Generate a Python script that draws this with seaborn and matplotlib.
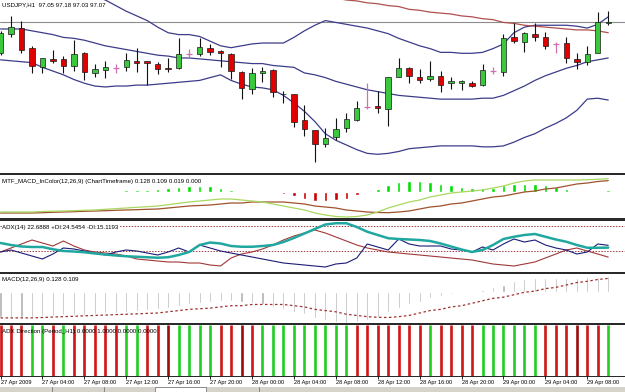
"""
USDJPY H1 terminal-style chart: candles with Bollinger bands plus four indicator windows.
"""

import matplotlib

matplotlib.use("Agg")
import matplotlib.pyplot as plt
import numpy as np
import seaborn as sns
from matplotlib.patches import Rectangle

# ---- data -------------------------------------------------------------------
bar_index = np.arange(59)

open_ = [96.73, 96.94, 97.00, 96.79, 96.58, 96.67, 96.67, 96.59, 96.73, 96.52,
         96.55, 96.57, 96.58, 96.65, 96.65, 96.62, 96.57, 96.57, 96.72, 96.72,
         96.79, 96.75, 96.72, 96.53, 96.35, 96.52, 96.55, 96.30, 96.30, 96.02,
         95.91, 95.76, 95.83, 95.93, 96.02, 96.16, 96.17, 96.13, 96.48, 96.57,
         96.48, 96.45, 96.49, 96.41, 96.41, 96.41, 96.39, 96.54, 96.53, 96.90,
         96.85, 96.94, 96.90, 96.83, 96.84, 96.67, 96.64, 96.73, 97.05]
high = [96.97, 97.13, 97.08, 96.81, 96.68, 96.77, 96.70, 96.87, 96.74, 96.62,
        96.65, 96.62, 96.73, 96.79, 96.65, 96.64, 96.68, 96.89, 96.78, 96.89,
        96.83, 96.77, 96.73, 96.54, 96.57, 96.58, 96.56, 96.33, 96.30, 96.18,
        95.91, 95.93, 96.04, 96.09, 96.22, 96.41, 96.33, 96.48, 96.68, 96.58,
        96.56, 96.65, 96.54, 96.48, 96.44, 96.43, 96.62, 96.58, 96.94, 97.05,
        96.96, 97.05, 96.96, 96.85, 96.90, 96.73, 96.81, 97.17, 97.18]
low = [96.71, 96.90, 96.73, 96.52, 96.52, 96.63, 96.52, 96.54, 96.44, 96.48,
       96.47, 96.52, 96.54, 96.53, 96.39, 96.51, 96.53, 96.56, 96.69, 96.70,
       96.71, 96.58, 96.45, 96.24, 96.30, 96.42, 96.26, 96.20, 95.94, 95.85,
       95.57, 95.73, 95.80, 95.89, 96.01, 96.13, 96.09, 95.95, 96.48, 96.41,
       96.41, 96.43, 96.32, 96.35, 96.34, 96.37, 96.38, 96.51, 96.49, 96.84,
       96.74, 96.86, 96.78, 96.73, 96.63, 96.56, 96.60, 96.73, 97.03]
close = [96.95, 97.01, 96.77, 96.59, 96.68, 96.65, 96.59, 96.72, 96.53, 96.56,
         96.58, 96.57, 96.66, 96.63, 96.63, 96.56, 96.56, 96.72, 96.72, 96.80,
         96.74, 96.73, 96.54, 96.36, 96.52, 96.54, 96.32, 96.29, 96.00, 95.92,
         95.76, 95.82, 95.92, 96.03, 96.14, 96.16, 96.14, 96.48, 96.57, 96.49,
         96.44, 96.49, 96.39, 96.43, 96.43, 96.38, 96.55, 96.54, 96.89, 96.86,
         96.95, 96.90, 96.81, 96.83, 96.68, 96.64, 96.72, 97.06, 97.07]

bb_upper = [97.73, 97.71, 97.67, 97.64, 97.60, 97.56, 97.50, 97.45, 97.40, 97.34,
            97.30, 97.24, 97.18, 97.13, 97.08, 97.01, 96.95, 96.93, 96.93, 96.91,
            96.86, 96.81, 96.79, 96.81, 96.83, 96.84, 96.84, 96.84, 96.90, 96.97,
            97.03, 97.08, 97.06, 97.04, 97.02, 97.00, 96.97, 96.94, 96.89, 96.85,
            96.81, 96.78, 96.74, 96.74, 96.73, 96.73, 96.74, 96.78, 96.83, 96.95,
            97.01, 97.03, 97.03, 97.03, 97.03, 97.02, 97.00, 97.04, 97.12]
bb_mid = [96.99, 96.99, 96.99, 96.97, 96.95, 96.93, 96.90, 96.89, 96.87, 96.84,
          96.81, 96.79, 96.77, 96.75, 96.73, 96.71, 96.70, 96.68, 96.68, 96.67,
          96.66, 96.65, 96.64, 96.63, 96.62, 96.62, 96.60, 96.59, 96.58, 96.52,
          96.50, 96.47, 96.43, 96.40, 96.37, 96.34, 96.32, 96.30, 96.28, 96.27,
          96.26, 96.25, 96.24, 96.24, 96.24, 96.24, 96.25, 96.25, 96.28, 96.33,
          96.38, 96.44, 96.49, 96.53, 96.57, 96.60, 96.64, 96.66, 96.68]
bb_lower = [96.66, 96.65, 96.64, 96.63, 96.58, 96.54, 96.50, 96.45, 96.41, 96.38,
            96.37, 96.38, 96.38, 96.39, 96.39, 96.40, 96.41, 96.42, 96.43, 96.44,
            96.47, 96.50, 96.44, 96.40, 96.37, 96.36, 96.34, 96.28, 96.20, 96.11,
            96.00, 95.87, 95.80, 95.75, 95.70, 95.66, 95.65, 95.66, 95.68, 95.71,
            95.72, 95.73, 95.74, 95.74, 95.74, 95.74, 95.73, 95.73, 95.74, 95.78,
            95.83, 95.87, 95.93, 95.98, 96.04, 96.12, 96.24, 96.25, 96.23]
# slow moving average, only the part inside the window is known
ma_slow = [np.nan] * 26 + [
    97.40, 97.39, 97.37, 97.36, 97.35, 97.33, 97.32, 97.30, 97.29, 97.27,
    97.26, 97.24, 97.23, 97.20, 97.19, 97.17, 97.16, 97.15, 97.13, 97.12,
    97.10, 97.09, 97.06, 97.05, 97.03, 97.02, 97.01, 97.00, 96.99, 96.98,
    96.98, 96.97, 96.95]
bid_price = 97.07

macd_main = [-0.205, -0.205, -0.205, -0.205, -0.200, -0.197, -0.195, -0.192, -0.188, -0.185,
             -0.178, -0.172, -0.165, -0.158, -0.152, -0.145, -0.132, -0.118, -0.105, -0.095,
             -0.085, -0.075, -0.075, -0.085, -0.095, -0.105, -0.125, -0.145, -0.165, -0.185,
             -0.215, -0.235, -0.250, -0.255, -0.250, -0.235, -0.205, -0.165, -0.135, -0.105,
             -0.085, -0.055, -0.035, -0.015, -0.005, 0.005, 0.015, 0.035, 0.055, 0.085,
             0.105, 0.115, 0.115, 0.115, 0.115, 0.115, 0.118, 0.122, 0.128]
macd_signal = [-0.215, -0.215, -0.215, -0.215, -0.212, -0.208, -0.205, -0.202, -0.198, -0.195,
               -0.192, -0.188, -0.185, -0.182, -0.178, -0.175, -0.165, -0.155, -0.145, -0.140,
               -0.135, -0.125, -0.115, -0.115, -0.105, -0.105, -0.105, -0.105, -0.115, -0.125,
               -0.145, -0.155, -0.165, -0.185, -0.195, -0.205, -0.210, -0.212, -0.205, -0.195,
               -0.175, -0.155, -0.145, -0.125, -0.115, -0.095, -0.075, -0.055, -0.045, -0.025,
               -0.005, 0.005, 0.025, 0.035, 0.055, 0.075, 0.085, 0.100, 0.109]
mtf_hist = [0.01, 0.01, 0.01, -0.01, -0.01, -0.01, -0.01, -0.01, -0.01, 0.01,
            0.01, 0.01, 0.02, 0.02, 0.02, 0.03, 0.04, 0.05, 0.06, 0.06,
            0.06, 0.04, 0.02, 0.01, 0.01, 0.01, -0.01, -0.02, -0.04, -0.07,
            -0.09, -0.09, -0.08, -0.07, -0.03, 0.01, 0.03, 0.07, 0.10, 0.11,
            0.11, 0.10, 0.08, 0.07, 0.05, 0.04, 0.04, 0.04, 0.07, 0.08,
            0.08, 0.08, 0.07, 0.05, 0.03, 0.01, -0.01, 0.01, 0.019]

adx = [26.4, 24.8, 23.6, 23.2, 23.2, 21.4, 20.0, 19.6, 19.0, 18.0,
       17.2, 16.4, 15.8, 15.4, 15.0, 14.6, 15.0, 16.8, 19.2, 24.8,
       26.8, 26.0, 24.0, 23.4, 23.4, 24.0, 24.8, 27.2, 30.4, 34.0,
       37.6, 41.2, 42.2, 42.2, 39.2, 35.4, 32.8, 30.2, 29.6, 29.2,
       28.8, 28.0, 26.0, 23.6, 21.2, 19.2, 20.8, 24.8, 29.6, 31.4,
       32.8, 33.6, 31.4, 29.2, 27.4, 24.8, 22.6, 22.6, 22.69]
plus_di = [19.2, 20.8, 18.4, 16.0, 13.6, 17.6, 22.4, 21.6, 20.0, 18.4,
           16.8, 19.2, 20.8, 20.0, 18.4, 16.8, 19.2, 22.4, 19.2, 24.8,
           22.4, 20.0, 18.4, 16.8, 15.2, 13.6, 12.0, 10.4, 9.6, 8.8,
           8.0, 7.2, 9.6, 10.4, 14.4, 25.6, 23.2, 20.8, 29.6, 25.6,
           24.0, 24.0, 24.0, 21.6, 20.8, 19.2, 23.2, 20.8, 25.6, 29.6,
           27.2, 28.8, 24.8, 22.4, 20.8, 17.6, 19.2, 25.6, 24.55]
minus_di = [19.2, 22.4, 25.6, 28.8, 26.4, 24.0, 28.0, 24.0, 20.8, 19.2,
            18.4, 17.6, 16.0, 13.6, 12.8, 12.0, 11.2, 11.2, 10.4, 10.4,
            8.8, 8.0, 14.4, 17.6, 19.2, 21.6, 24.8, 28.8, 32.0, 34.4,
            36.8, 34.4, 31.2, 28.0, 24.8, 22.4, 20.8, 19.2, 18.4, 17.6,
            16.8, 16.0, 15.2, 14.4, 13.6, 12.8, 11.2, 9.6, 8.8, 8.0,
            9.6, 11.2, 14.4, 17.6, 20.8, 22.4, 20.0, 17.6, 15.12]
adx_levels = [20, 40]

# r = down, d = strong down, g = up
adx_direction = list("rrrgg" "rgrrr" "rrggr" "rdggg" "grrdr" "ggggg"
                     "ggggr" "rrrrr" "rgrrr" "rgggg" "ggrrr" "drrg")

time_label_bars = [0, 4, 8, 12, 16, 20, 24, 28, 32, 36, 40, 44, 48, 52, 56]
time_labels = ["27 Apr 2009", "27 Apr 04:00", "27 Apr 08:00", "27 Apr 12:00",
               "27 Apr 16:00", "27 Apr 20:00", "28 Apr 00:00", "28 Apr 04:00",
               "28 Apr 08:00", "28 Apr 12:00", "28 Apr 16:00", "28 Apr 20:00",
               "29 Apr 00:00", "29 Apr 04:00", "29 Apr 08:00"]

# ---- style ------------------------------------------------------------------
sns.set_theme(style="white")
plt.rcParams["font.family"] = ["Liberation Sans", "DejaVu Sans"]

UP = "#3cc83c"
DOWN = "#e00000"
DOJI = "#d070b0"
BAND = "#3c3c8a"
FS = 4.4

W, H = 625, 392
fig = plt.figure(figsize=(W / 100, H / 100), dpi=100, facecolor="white")

# dark frame behind the stacked windows
fig.patches.append(Rectangle((0, 1 - 377 / H), 1, 204 / H, transform=fig.transFigure,
                             facecolor="#2a2a2a", edgecolor="none", zorder=-5))


def window(top, bottom):
    ax = fig.add_axes([0, 1 - bottom / H, 1, (bottom - top) / H])
    ax.set_facecolor("white")
    ax.set_xlim(-0.05, 59.6)
    ax.set_xticks([])
    ax.set_yticks([])
    for s in ax.spines.values():
        s.set_visible(False)
    return ax


def label(ax, text, dy, box=False):
    ax.annotate(text, xy=(0, 1), xycoords="axes fraction", xytext=(2, -dy),
                textcoords="offset pixels", ha="left", va="center", fontsize=FS,
                color="black", zorder=10,
                bbox=dict(facecolor="white", edgecolor="none", pad=0.3) if box else None)


# ---- main price window ------------------------------------------------------
ax = window(0, 173)
ax.set_ylim(95.45, 97.30)
for ys in (bb_upper, bb_mid, bb_lower):
    sns.lineplot(x=bar_index, y=ys, ax=ax, color=BAND, linewidth=0.9,
                 errorbar=None, legend=False)
sns.lineplot(x=bar_index, y=ma_slow, ax=ax, color="#b05050", linewidth=0.9,
             errorbar=None, legend=False)
ax.axhline(bid_price, color="#8c8c8c", linewidth=0.8, zorder=1)

for i, (o, h, l, c) in enumerate(zip(open_, high, low, close)):
    if c == o:
        ax.vlines(i, l, h, color=DOJI, linewidth=0.9, zorder=3)
        ax.hlines(o, i - 0.28, i + 0.28, color=DOJI, linewidth=0.9, zorder=3)
        continue
    ax.vlines(i, l, h, color="#111111", linewidth=0.8, zorder=3)
    ax.bar(i, abs(c - o), bottom=min(o, c), width=0.52, color=UP if c > o else DOWN,
           edgecolor="#1a1a1a", linewidth=0.5, zorder=4)
label(ax, "USDJPY,H1  97.05 97.18 97.03 97.07", 5)

# ---- MTF MACD in colour ------------------------------------------------------
ax = window(175, 218)
ax.set_ylim(-0.265, 0.165)
ax.bar(bar_index, mtf_hist, width=0.34,
       color=["#00e000" if v > 0 else "#cc0000" for v in mtf_hist], zorder=2)
sns.lineplot(x=bar_index, y=macd_signal, ax=ax, color="#a0522d", linewidth=0.9,
             errorbar=None, legend=False)
sns.lineplot(x=bar_index, y=macd_main, ax=ax, color="#a8d860", linewidth=0.9,
             errorbar=None, legend=False)
label(ax, "MTF_MACD_InColor(12,26,9) (ChartTimeframe) 0.128 0.109 0.019 0.000", 7)

# ---- ADX ------------------------------------------------------------------------
ax = window(221, 272)
ax.set_ylim(3.2, 44)
for lvl in adx_levels:
    ax.axhline(lvl, color="#a04040", linewidth=0.7, linestyle=(0, (1.5, 1.5)), zorder=1)
sns.lineplot(x=bar_index, y=minus_di, ax=ax, color="#a03838", linewidth=0.8,
             errorbar=None, legend=False)
sns.lineplot(x=bar_index, y=plus_di, ax=ax, color="#1c1c78", linewidth=0.8,
             errorbar=None, legend=False)
sns.lineplot(x=bar_index, y=adx, ax=ax, color="#20a8a0", linewidth=1.8,
             errorbar=None, legend=False)
label(ax, "ADX(14) 22.6888 +DI:24.5454 -DI:15.1193", 6, box=True)

# ---- MACD ---------------------------------------------------------------------
ax = window(274, 323)
ax.set_ylim(-0.257, 0.145)
ax.bar(bar_index, macd_main, width=0.2, color="#b0b0b0", zorder=2)
sns.lineplot(x=bar_index, y=macd_signal, ax=ax, color="#a03030", linewidth=0.9,
             linestyle=(0, (2, 2)), errorbar=None, legend=False)
label(ax, "MACD(12,26,9) 0.128 0.109", 6)

# ---- ADX direction ------------------------------------------------------------
ax = window(325, 376)
ax.set_ylim(0, 1)
dir_colors = {"g": "#22cc22", "r": "#d01515", "d": "#9a0c0c"}
# fixed line width keeps every bar the same pixel thickness
ax.vlines(bar_index, 0, 1, colors=[dir_colors[k] for k in adx_direction],
          linewidth=1.9, zorder=2)
label(ax, "ADX Direction (Period_H1) 0.0000 1.0000 0.0000 0.0000", 7)

ax.set_xticks(time_label_bars)
ax.set_xticklabels(time_labels, ha="left", fontsize=4.1)
ax.tick_params(axis="x", bottom=True, length=2, width=0.6, pad=0.8, colors="black")

# ---- terminal tab strip at the bottom --------------------------------------------
fig.patches.append(Rectangle((0, 0), 1, 5 / H, transform=fig.transFigure,
                             facecolor="#d6d3cc", edgecolor="none", zorder=-5))
fig.patches.append(Rectangle((155 / W, 0), 51 / W, 5 / H, transform=fig.transFigure,
                             facecolor="white", edgecolor="#7a7a7a", linewidth=0.6, zorder=-4))
for xp in (52, 104, 259):
    fig.lines.append(plt.Line2D([xp / W, xp / W], [0, 5 / H], transform=fig.transFigure,
                                color="#7a7a7a", linewidth=0.6))

fig.savefig("out.png", dpi=100, facecolor="white")
